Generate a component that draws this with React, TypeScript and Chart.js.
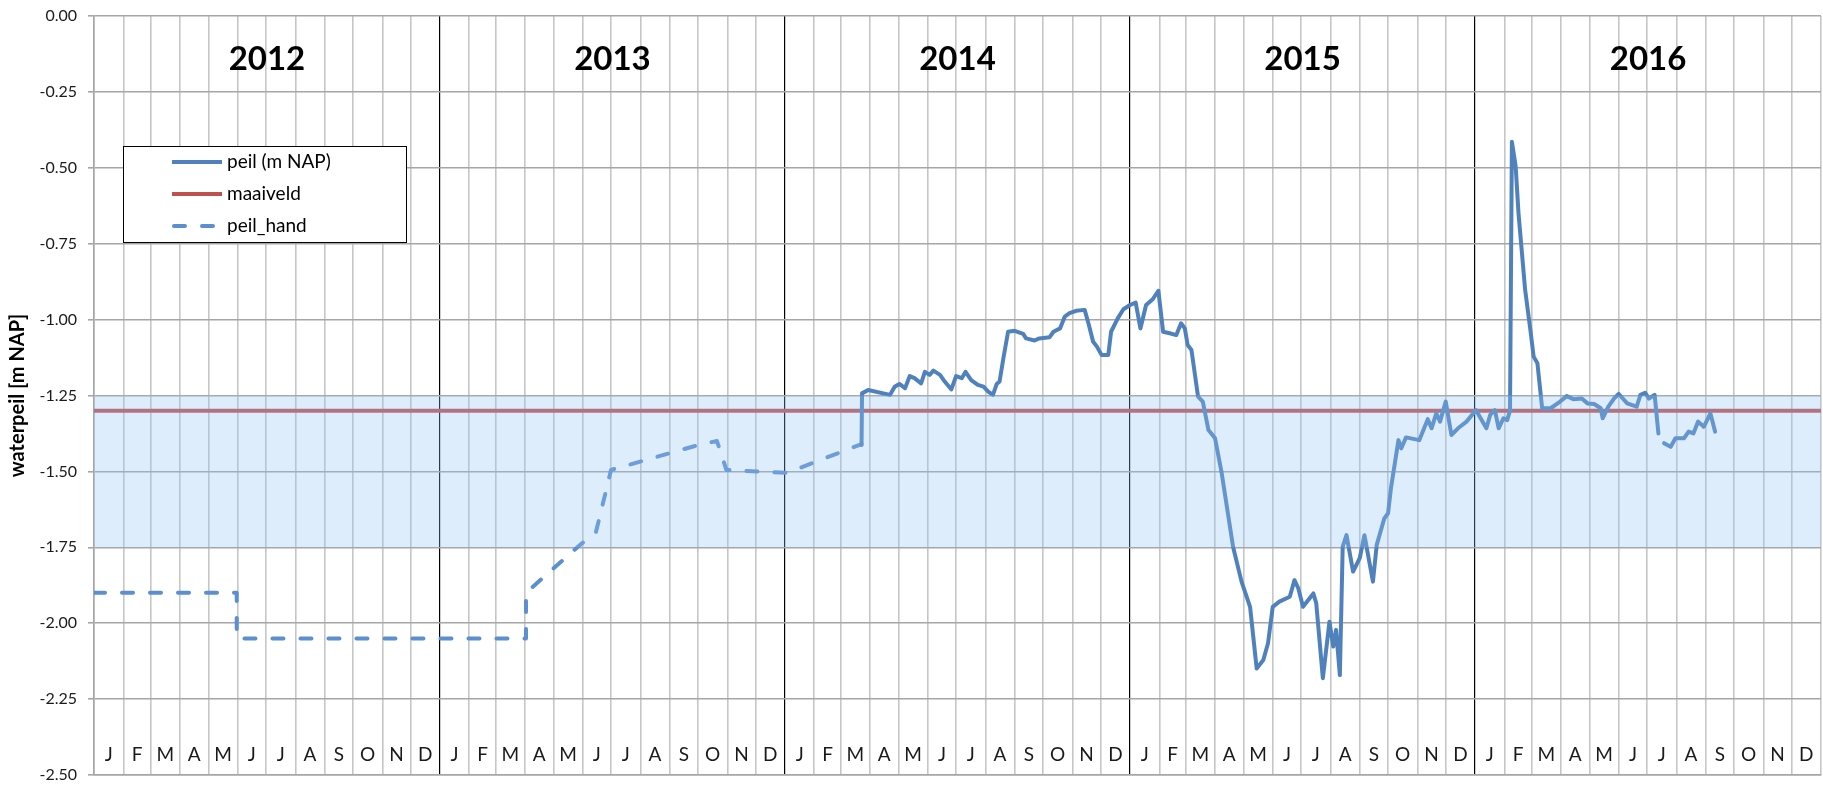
import React, { useEffect, useRef } from "react";
import { Chart, registerables } from "chart.js";
Chart.register(...registerables);

// ---- data (x = days since 2012-01-01) ----
const yearLabels = ["2012", "2013", "2014", "2015", "2016"];
const monthLetters = ["J", "F", "M", "A", "M", "J", "J", "A", "S", "O", "N", "D"];
const yTickStep = 0.25;
const yMin = -2.5;
const yMax = 0;

const legendLabels = ["peil (m NAP)", "maaiveld", "peil_hand"];

const maaiveldLevel = -1.3;
const bandTop = -1.25;
const bandBottom = -1.75;

const peilHandDays = [0, 151, 151, 457, 457, 515, 531, 547, 643, 659, 669, 733, 812];
const peilHandValues = [-1.9, -1.9, -2.05, -2.05, -1.9, -1.74, -1.7, -1.495, -1.41, -1.4, -1.495, -1.505, -1.41];

const peilDays = [
  812, 812.5, 819, 842, 847, 852, 858, 863, 868, 875, 879, 884, 888, 895, 900, 907, 912, 918, 922, 928,
  935, 941, 946, 951, 955, 958, 962, 967, 974, 983, 986, 995, 1000, 1011, 1015, 1022, 1027, 1032, 1039, 1048,
  1052, 1057, 1061, 1066, 1073, 1076, 1083, 1089, 1096, 1102, 1107, 1113, 1120, 1126, 1131, 1138, 1145, 1150, 1154, 1157,
  1161, 1168, 1173, 1179, 1186, 1193, 1205, 1214, 1223, 1230, 1237, 1242, 1247, 1254, 1265, 1270, 1274, 1279, 1290, 1293,
  1300, 1307, 1311, 1314, 1318, 1321, 1325, 1332, 1339, 1344, 1353, 1357, 1365, 1369, 1372, 1380, 1383, 1388, 1402, 1411,
  1415, 1420, 1424, 1430, 1436, 1443, 1452, 1462, 1466, 1473, 1477, 1482, 1486, 1491, 1495, 1498, 1500, 1504, 1507, 1514,
  1520, 1523, 1527, 1532, 1541, 1551, 1558, 1565, 1574, 1580, 1587, 1594, 1596, 1602, 1608, 1613, 1622, 1632, 1636, 1641,
  1645, 1651, 1655, 1658, 1661, 1668, 1673, 1682, 1687, 1692, 1697, 1703, 1710, 1715,
];
const peilValues: (number | null)[] = [
  -1.413, -1.243, -1.232, -1.248, -1.221, -1.212, -1.226, -1.186, -1.193, -1.21, -1.172, -1.182, -1.168, -1.182, -1.204, -1.23, -1.186, -1.193, -1.172, -1.199,
  -1.215, -1.221, -1.237, -1.248, -1.212, -1.204, -1.128, -1.04, -1.037, -1.047, -1.062, -1.069, -1.062, -1.058, -1.04, -1.029, -0.99, -0.979, -0.971, -0.968,
  -1.012, -1.073, -1.089, -1.117, -1.117, -1.04, -0.996, -0.966, -0.952, -0.944, -1.029, -0.952, -0.933, -0.905, -1.04, -1.045, -1.051, -1.012, -1.029, -1.084,
  -1.1, -1.254, -1.27, -1.364, -1.391, -1.506, -1.748, -1.863, -1.946, -2.149, -2.121, -2.066, -1.946, -1.929, -1.913, -1.858, -1.885, -1.946, -1.902, -1.934,
  -2.181, -1.995, -2.077, -2.022, -2.171, -1.748, -1.71, -1.83, -1.786, -1.71, -1.863, -1.742, -1.655, -1.638, -1.556, -1.397, -1.424, -1.388, -1.397, -1.328,
  -1.358, -1.309, -1.336, -1.27, -1.38, -1.358, -1.336, -1.298, -1.32, -1.358, -1.314, -1.298, -1.358, -1.325, -1.331, -1.3, -0.414, -0.496, -0.65, -0.902,
  -1.045, -1.122, -1.144, -1.292, -1.292, -1.27, -1.252, -1.262, -1.26, -1.276, -1.278, -1.292, -1.325, -1.287, -1.26, -1.245, -1.276, -1.287, -1.248, -1.241,
  -1.26, -1.248, -1.375, null, -1.407, -1.419, -1.391, -1.391, -1.369, -1.375, -1.336, -1.353, -1.309, -1.369,
];

// ---- calendar helpers ----
const DAY = 86400000;
const origin = Date.UTC(2012, 0, 1);
const monthStarts: number[] = [];
for (let y = 2012; y <= 2017; y++) {
  for (let m = 0; m < 12; m++) {
    if (y === 2017 && m > 0) break;
    monthStarts.push(Math.round((Date.UTC(y, m, 1) - origin) / DAY));
  }
}
const yearStarts = monthStarts.filter((_, i) => i % 12 === 0);
const xMax = monthStarts[monthStarts.length - 1];

const FONT = "Lato, 'Open Sans', sans-serif";
const BLUE = "#4f81bd";
const BLUE_DASH = "#5b8fcf";
const RED = "#c0504d";

const isInnerYear = (v: number) => yearStarts.includes(v) && v !== 0 && v !== xMax;

const overlayPlugin = {
  id: "overlay",
  afterDatasetsDraw(chart: any) {
    const { ctx, chartArea, scales } = chart;
    const y = scales.y;
    const t = y.getPixelForValue(bandTop);
    const b = y.getPixelForValue(bandBottom);
    ctx.save();
    ctx.fillStyle = "rgba(145,195,245,0.3)";
    ctx.fillRect(chartArea.left, t, chartArea.right - chartArea.left, b - t);
    ctx.restore();
  },
  afterDraw(chart: any) {
    const { ctx, scales, chartArea } = chart;
    const x = scales.x;
    ctx.save();
    // year labels
    ctx.fillStyle = "#000";
    ctx.textAlign = "center";
    ctx.textBaseline = "middle";
    ctx.font = `bold 33px ${FONT}`;
    yearLabels.forEach((lab, i) => {
      const cx = (x.getPixelForValue(yearStarts[i]) + x.getPixelForValue(yearStarts[i + 1])) / 2;
      ctx.fillText(lab, cx, 59);
    });
    // month letters
    ctx.font = `19px ${FONT}`;
    ctx.fillStyle = "#1a1a1a";
    for (let i = 0; i < monthStarts.length - 1; i++) {
      const cx = (x.getPixelForValue(monthStarts[i]) + x.getPixelForValue(monthStarts[i + 1])) / 2;
      ctx.fillText(monthLetters[i % 12], cx, chartArea.bottom - 20);
    }
    // legend
    const lx = 123, ly = 146, lw = 283, lh = 96;
    ctx.fillStyle = "#fff";
    ctx.fillRect(lx, ly, lw, lh);
    ctx.strokeStyle = "#000";
    ctx.lineWidth = 1;
    ctx.strokeRect(lx + 0.5, ly + 0.5, lw, lh);
    const colors = [BLUE, RED, BLUE_DASH];
    const dashes = [[], [], [11, 17]];
    legendLabels.forEach((lab, i) => {
      const yy = 162 + i * 32;
      ctx.beginPath();
      ctx.setLineDash(dashes[i]);
      ctx.lineCap = i === 2 ? "round" : "butt";
      ctx.strokeStyle = colors[i];
      ctx.lineWidth = 4;
      ctx.moveTo(i === 2 ? 174 : 172, yy);
      ctx.lineTo(222, yy);
      ctx.stroke();
      ctx.setLineDash([]);
      ctx.fillStyle = "#000";
      ctx.textAlign = "left";
      ctx.font = `19px ${FONT}`;
      ctx.fillText(lab, 227, yy);
    });
    ctx.restore();
  },
};

export default function App() {
  const ref = useRef<HTMLCanvasElement | null>(null);
  useEffect(() => {
    if (!ref.current) return;
    const yTicks: number[] = [];
    for (let v = yMin; v <= yMax + 1e-9; v += yTickStep) yTicks.push(Math.round(v * 100) / 100);
    const chart = new Chart(ref.current, {
      type: "line",
      data: {
        datasets: [
          {
            label: legendLabels[0],
            data: peilDays.map((d, i) => ({ x: d, y: peilValues[i] })),
            borderColor: BLUE,
            borderWidth: 4,
            pointRadius: 0,
            tension: 0,
            spanGaps: false,
            borderJoinStyle: "round",
            borderCapStyle: "round",
          },
          {
            label: legendLabels[1],
            data: [
              { x: 0, y: maaiveldLevel },
              { x: xMax, y: maaiveldLevel },
            ],
            borderColor: RED,
            borderWidth: 4,
            pointRadius: 0,
          },
          {
            label: legendLabels[2],
            data: peilHandDays.map((d, i) => ({ x: d, y: peilHandValues[i] })),
            borderColor: BLUE_DASH,
            borderWidth: 4,
            borderDash: [11, 17],
            borderCapStyle: "round",
            borderJoinStyle: "round",
            pointRadius: 0,
            tension: 0,
          },
        ],
      },
      options: {
        responsive: false,
        animation: false,
        devicePixelRatio: 1,
        layout: { padding: { top: 16, right: 2, left: 0, bottom: 0 } },
        plugins: { legend: { display: false }, tooltip: { enabled: false } },
        scales: {
          x: {
            type: "linear",
            min: 0,
            max: xMax,
            afterBuildTicks: (s: any) => {
              s.ticks = monthStarts.map((v) => ({ value: v }));
            },
            afterFit: (s: any) => {
              s.height = 10;
              s.paddingLeft = 0;
              s.paddingRight = 0;
            },
            ticks: { display: false, autoSkip: false },
            grid: {
              drawTicks: false,
              color: (c: any) => (c.tick && isInnerYear(c.tick.value) ? "#000" : "#c6c6c6"),
              lineWidth: (c: any) => (c.tick && isInnerYear(c.tick.value) ? 1.2 : 1.6),
            },
            border: { color: "#a6a6a6", width: 1.6 },
          },
          y: {
            min: yMin,
            max: yMax,
            afterBuildTicks: (s: any) => {
              s.ticks = yTicks.map((v) => ({ value: v }));
            },
            afterFit: (s: any) => {
              s.width = 94;
              s.paddingTop = 0;
              s.paddingBottom = 0;
            },
            ticks: {
              padding: 11,
              color: "#1a1a1a",
              font: { family: FONT, size: 16 },
              callback: (v: any) => Number(v).toFixed(2),
            },
            grid: { color: "#a6a6a6", lineWidth: 1.6, tickLength: 6 },
            border: { color: "#a6a6a6", width: 1.6 },
            title: {
              display: true,
              text: "waterpeil [m NAP]",
              color: "#000",
              font: { family: FONT, size: 20, weight: "bold" },
              padding: { top: 6, bottom: 0 },
            },
          },
        },
      },
      plugins: [overlayPlugin],
    } as any);
    return () => chart.destroy();
  }, []);
  return (
    <div style={{ position: "absolute", left: 0, top: 0, width: 1823, height: 785, background: "#fff" }}>
      <canvas ref={ref} width={1823} height={785} style={{ display: "block" }} />
    </div>
  );
}
